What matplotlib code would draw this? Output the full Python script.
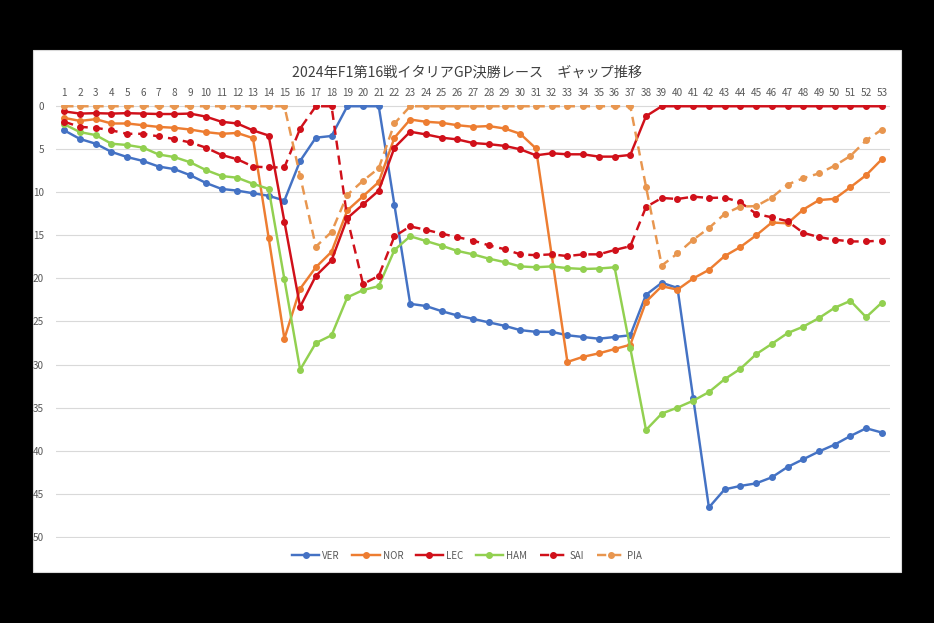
import numpy as np
import matplotlib.pyplot as plt
from matplotlib.patches import Rectangle

plt.rcParams['font.family'] = ['Noto Sans CJK JP', 'DejaVu Sans']

TITLE = "2024年F1第16戦イタリアGP決勝レース　ギャップ推移"
laps = list(range(1, 54))

ver = [2.8, 3.8, 4.35, 5.3, 5.9, 6.35, 7.0, 7.3, 8.0, 8.9, 9.6, 9.8, 10.1, 10.4, 10.95,
       6.35, 3.65, 3.45, 0, 0, 0,
       11.5, 22.95, 23.2, 23.8, 24.3, 24.7, 25.1, 25.5, 26.0, 26.2, 26.2, 26.6, 26.8, 27.0, 26.8, 26.6,
       21.9, 20.5, 21.1, 33.9, 46.6, 44.5, 44.1, 43.8, 43.1, 41.9, 41.0, 40.1, 39.3, 38.3, 37.4, 37.9]
nor = [1.35, 1.7, 1.5, 2.0, 2.0, 2.2, 2.4, 2.5, 2.7, 3.0, 3.2, 3.1, 3.7, 15.3,
       27.0, 21.2, 18.7, 16.9, 12.1, 10.45, 8.8, 3.65,
       1.54, 1.8, 1.92, 2.2, 2.38, 2.3, 2.58, 3.2, 4.9,
       17.3, 29.7, 29.1, 28.7, 28.2, 27.7,
       22.7, 20.9, 21.3, 20.0, 19.0, 17.4, 16.35, 15.0, 13.5, 13.6, 12.0, 10.9, 10.75, 9.4, 8.0, 6.15]
lec = [0.6, 0.85, 0.8, 0.85, 0.8, 0.85, 0.9, 0.9, 0.85, 1.2, 1.8, 2.0, 2.8, 3.4,
       13.4, 23.3, 19.7, 17.9, 13.0, 11.4, 9.8, 4.8,
       2.96, 3.27, 3.65, 3.85, 4.27, 4.4, 4.6, 5.0, 5.7, 5.46, 5.58, 5.58, 5.85, 5.85, 5.65,
       1.15] + [0] * 15
ham = [2.1, 3.0, 3.35, 4.35, 4.5, 4.8, 5.6, 5.9, 6.5, 7.4, 8.1, 8.3, 9.0, 9.6,
       20.1, 30.6, 27.5, 26.6, 22.2, 21.35, 20.9, 16.7,
       15.1, 15.65, 16.2, 16.8, 17.2, 17.7, 18.1, 18.6, 18.7, 18.6, 18.8, 18.9, 18.85, 18.7, 28.1,
       37.6, 35.7, 35.0, 34.2, 33.2, 31.7, 30.5, 28.8, 27.6, 26.35, 25.6, 24.6, 23.4, 22.6, 24.5, 22.8]
sai = [1.8, 2.4, 2.5, 2.8, 3.2, 3.2, 3.5, 3.8, 4.2, 4.8, 5.65, 6.15, 7.0, 7.1, 7.1,
       2.6, 0, 0, 13.0, 20.65, 19.7, 15.1,
       13.96, 14.35, 14.8, 15.2, 15.6, 16.15, 16.6, 17.2, 17.3, 17.2, 17.4, 17.2, 17.2, 16.7, 16.25,
       11.7, 10.65, 10.77, 10.5, 10.65, 10.6, 11.15, 12.5, 12.9, 13.35, 14.7, 15.2, 15.5, 15.7, 15.7, 15.6]
pia = [0] * 15 + [8.1, 16.3, 14.6, 10.3, 8.65, 7.2, 2.0] + [0] * 15 + \
      [9.35, 18.5, 17.1, 15.5, 14.15, 12.5, 11.65, 11.6, 10.6, 9.1, 8.35, 7.8, 6.9, 5.77, 3.96, 2.7]

drivers = ["VER", "NOR", "LEC", "HAM", "SAI", "PIA"]
series = [ver, nor, lec, ham, sai, pia]
colors = ["#4472C4", "#ED7D31", "#D0101A", "#92D050", "#D0101A", "#E8964F"]
styles = ["-", "-", "-", "-", (0, (3.8, 2.4)), (0, (3.8, 2.4))]

fig = plt.figure(figsize=(9.34, 6.23), dpi=100, facecolor="black")
# white chart area
fig.patches.append(Rectangle((0.0353, 0.0819), 0.9293, 0.8379, transform=fig.transFigure,
                             facecolor="white", edgecolor="#d9d9d9", lw=0.8, zorder=-5))

ax = fig.add_axes([0.0604, 0.1364, 0.8922, 0.6951])
ax.set_facecolor("white")

for name, vals, c, ls in zip(drivers, series, colors, styles):
    ax.plot(laps, vals, color=c, linestyle=ls, lw=1.75, marker="o", markersize=4.0,
            label=name, zorder=3)

ax.set_xlim(0.5, 53.5)
ax.set_ylim(50.15, -0.15)
ax.set_yticks(np.arange(0, 51, 5))
ax.set_xticks(laps)
ax.xaxis.tick_top()
ax.tick_params(axis="both", length=0, labelsize=7.2, colors="#595959")
ax.tick_params(axis="x", pad=5)
ax.tick_params(axis="y", pad=9)
ax.grid(axis="y", color="#d9d9d9", lw=0.8)
ax.set_axisbelow(True)
for s in ax.spines.values():
    s.set_visible(False)

fig.text(0.5, 0.884, TITLE, ha="center", va="center", fontsize=10.2, color="#404040")

fig.legend(loc="center", bbox_to_anchor=(0.5, 0.108), ncol=6, frameon=False,
           fontsize=7, labelcolor="#595959", handlelength=2.8, columnspacing=1.3,
           handletextpad=0.3)

fig.savefig("out.png", dpi=100, facecolor="black")
